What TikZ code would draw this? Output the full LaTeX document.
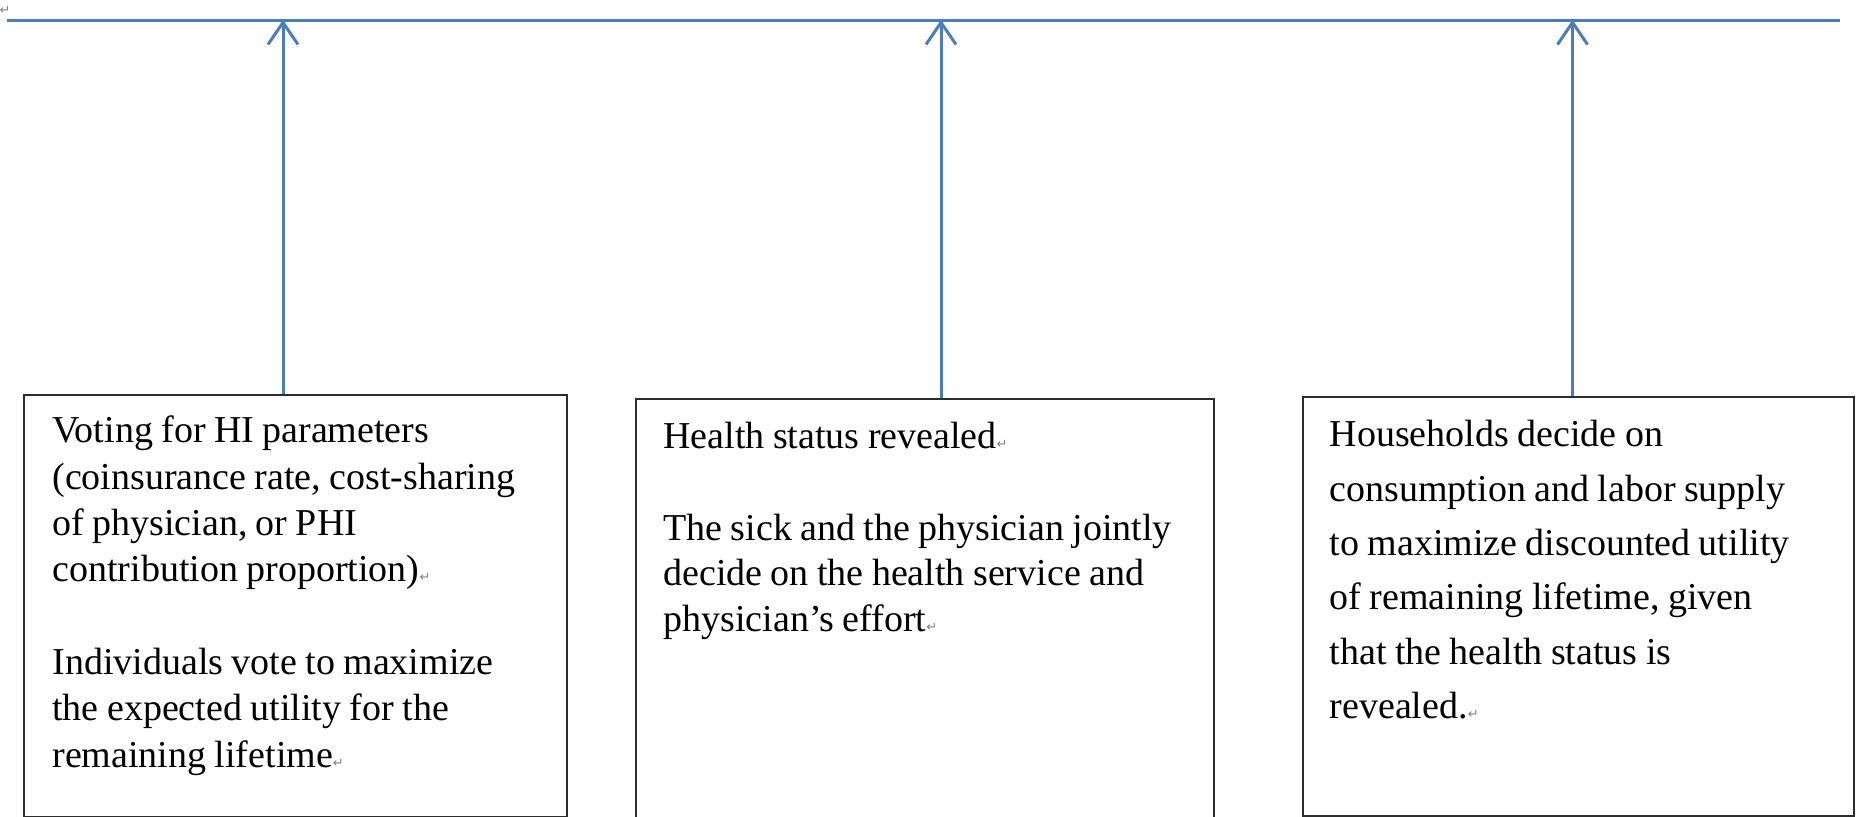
\documentclass[tikz,border=0pt]{standalone}
\usepackage{fontspec}
\setmainfont{Liberation Serif}
\newfontfamily\symfont{DejaVu Sans}
\usetikzlibrary{arrows.meta}
\definecolor{lineblue}{RGB}{74,126,187}
\definecolor{boxgray}{RGB}{45,45,45}
\newcommand{\pmark}{{\symfont\fontsize{6.5pt}{6.5pt}\selectfont\color{gray}↵}}
\newcommand{\tightsp}{\spaceskip=0.22em plus 0.05em minus 0.03em\xspaceskip=0.3em\relax}
\begin{document}
\begin{tikzpicture}[x=0.5pt,y=-0.5pt,
  boxnode/.style={draw=boxgray, line width=1pt, inner sep=0pt, anchor=north west},
  txt/.style={anchor=base west, inner sep=0pt, align=left, text width=280pt},
  blueline/.style={draw=lineblue, line width=1.5pt},
  uparrow/.style={blueline, -{Straight Barb[length=11pt,width=15pt,line join=round]}}]
\clip (0,0) rectangle (1857,817);
% timeline
\coordinate (tlL) at (7,21);
\coordinate (tlR) at (1840,21);
\draw[blueline] (tlL) -- (tlR);
\node[anchor=south east, inner sep=0pt, font=\symfont\fontsize{6.5pt}{6.5pt}\selectfont, text=gray] (mark) at (11,15) {↵};
% event points on the timeline
\coordinate (e1) at (283,21);
\coordinate (e2) at (941,21);
\coordinate (e3) at (1572.5,21);
% boxes
\node[boxnode, minimum width=271.5pt, minimum height=210.7pt] (b1) at (22.7,394.3) {};
\node[boxnode, minimum width=289.15pt, minimum height=225pt] (b2) at (635,398.3) {};
\node[boxnode, minimum width=275.5pt, minimum height=209.5pt] (b3) at (1302.3,396) {};
% texts
\node[txt, font=\fontsize{19pt}{23.15pt}\selectfont] (t1) at (52,443) {\tightsp Voting for HI parameters\\
(coinsurance rate, cost-sharing\\
of physician, or PHI\\
contribution proportion)\pmark\\[23.15pt]
Individuals vote to maximize\\
the expected utility for the\\
remaining lifetime\pmark};
\node[txt, font=\fontsize{19pt}{22.9pt}\selectfont] (t2) at (663,448.5) {\tightsp Health status revealed\pmark\\[22.9pt]
The sick and the physician jointly\\
decide on the health service and\\
physician’s effort\pmark};
\node[txt, font=\fontsize{19pt}{27.15pt}\selectfont] (t3) at (1329.3,447) {\tightsp Households decide on\\
consumption and labor supply\\
to maximize discounted utility\\
of remaining lifetime, given\\
that the health status is\\
revealed.\pmark};
% arrows
\draw[uparrow] (b1.north -| e1) -- (e1);
\draw[uparrow] (b2.north -| e2) -- (e2);
\draw[uparrow] (b3.north -| e3) -- (e3);
\end{tikzpicture}
\end{document}
